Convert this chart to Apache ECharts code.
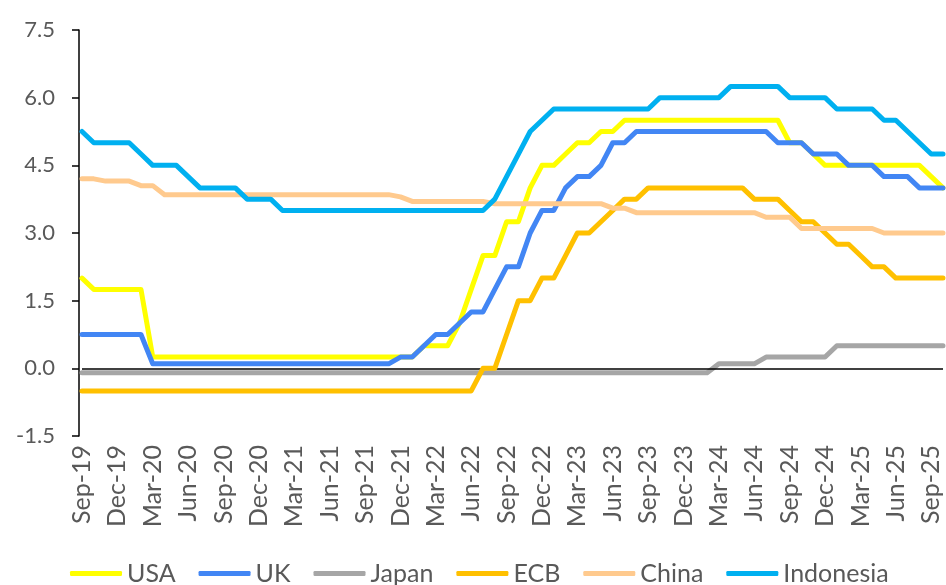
<!DOCTYPE html>
<html>
<head>
<meta charset="utf-8">
<title>Policy rates</title>
<script src="https://cdn.jsdelivr.net/npm/echarts@6/dist/echarts.min.js"></script>
<style>
  html, body { margin: 0; padding: 0; background: #ffffff; }
  #chart { width: 946px; height: 585px; }
</style>
</head>
<body>
<div id="chart"></div>
<script>
// Monthly policy rates (%), Sep-19 to Oct-25
const categories = [
  'Sep-19','Oct-19','Nov-19','Dec-19',
  'Jan-20','Feb-20','Mar-20','Apr-20','May-20','Jun-20','Jul-20','Aug-20','Sep-20','Oct-20','Nov-20','Dec-20',
  'Jan-21','Feb-21','Mar-21','Apr-21','May-21','Jun-21','Jul-21','Aug-21','Sep-21','Oct-21','Nov-21','Dec-21',
  'Jan-22','Feb-22','Mar-22','Apr-22','May-22','Jun-22','Jul-22','Aug-22','Sep-22','Oct-22','Nov-22','Dec-22',
  'Jan-23','Feb-23','Mar-23','Apr-23','May-23','Jun-23','Jul-23','Aug-23','Sep-23','Oct-23','Nov-23','Dec-23',
  'Jan-24','Feb-24','Mar-24','Apr-24','May-24','Jun-24','Jul-24','Aug-24','Sep-24','Oct-24','Nov-24','Dec-24',
  'Jan-25','Feb-25','Mar-25','Apr-25','May-25','Jun-25','Jul-25','Aug-25','Sep-25','Oct-25'
];

const usa = [
  2.00, 1.75, 1.75, 1.75, 1.75, 1.75, 0.25, 0.25, 0.25, 0.25, 0.25, 0.25,
  0.25, 0.25, 0.25, 0.25, 0.25, 0.25, 0.25, 0.25, 0.25, 0.25, 0.25, 0.25,
  0.25, 0.25, 0.25, 0.25, 0.25, 0.50, 0.50, 0.50, 1.00, 1.75, 2.50, 2.50,
  3.25, 3.25, 4.00, 4.50, 4.50, 4.75, 5.00, 5.00, 5.25, 5.25, 5.50, 5.50,
  5.50, 5.50, 5.50, 5.50, 5.50, 5.50, 5.50, 5.50, 5.50, 5.50, 5.50, 5.50,
  5.00, 5.00, 4.75, 4.50, 4.50, 4.50, 4.50, 4.50, 4.50, 4.50, 4.50, 4.50,
  4.25, 4.00
];

const uk = [
  0.75, 0.75, 0.75, 0.75, 0.75, 0.75, 0.10, 0.10, 0.10, 0.10, 0.10, 0.10,
  0.10, 0.10, 0.10, 0.10, 0.10, 0.10, 0.10, 0.10, 0.10, 0.10, 0.10, 0.10,
  0.10, 0.10, 0.10, 0.25, 0.25, 0.50, 0.75, 0.75, 1.00, 1.25, 1.25, 1.75,
  2.25, 2.25, 3.00, 3.50, 3.50, 4.00, 4.25, 4.25, 4.50, 5.00, 5.00, 5.25,
  5.25, 5.25, 5.25, 5.25, 5.25, 5.25, 5.25, 5.25, 5.25, 5.25, 5.25, 5.00,
  5.00, 5.00, 4.75, 4.75, 4.75, 4.50, 4.50, 4.50, 4.25, 4.25, 4.25, 4.00,
  4.00, 4.00
];

const japan = [
  -0.10, -0.10, -0.10, -0.10, -0.10, -0.10, -0.10, -0.10, -0.10, -0.10, -0.10, -0.10,
  -0.10, -0.10, -0.10, -0.10, -0.10, -0.10, -0.10, -0.10, -0.10, -0.10, -0.10, -0.10,
  -0.10, -0.10, -0.10, -0.10, -0.10, -0.10, -0.10, -0.10, -0.10, -0.10, -0.10, -0.10,
  -0.10, -0.10, -0.10, -0.10, -0.10, -0.10, -0.10, -0.10, -0.10, -0.10, -0.10, -0.10,
  -0.10, -0.10, -0.10, -0.10, -0.10, -0.10, 0.10, 0.10, 0.10, 0.10, 0.25, 0.25,
  0.25, 0.25, 0.25, 0.25, 0.50, 0.50, 0.50, 0.50, 0.50, 0.50, 0.50, 0.50,
  0.50, 0.50
];

const ecb = [
  -0.50, -0.50, -0.50, -0.50, -0.50, -0.50, -0.50, -0.50, -0.50, -0.50, -0.50, -0.50,
  -0.50, -0.50, -0.50, -0.50, -0.50, -0.50, -0.50, -0.50, -0.50, -0.50, -0.50, -0.50,
  -0.50, -0.50, -0.50, -0.50, -0.50, -0.50, -0.50, -0.50, -0.50, -0.50, 0.00, 0.00,
  0.75, 1.50, 1.50, 2.00, 2.00, 2.50, 3.00, 3.00, 3.25, 3.50, 3.75, 3.75,
  4.00, 4.00, 4.00, 4.00, 4.00, 4.00, 4.00, 4.00, 4.00, 3.75, 3.75, 3.75,
  3.50, 3.25, 3.25, 3.00, 2.75, 2.75, 2.50, 2.25, 2.25, 2.00, 2.00, 2.00,
  2.00, 2.00
];

const china = [
  4.20, 4.20, 4.15, 4.15, 4.15, 4.05, 4.05, 3.85, 3.85, 3.85, 3.85, 3.85,
  3.85, 3.85, 3.85, 3.85, 3.85, 3.85, 3.85, 3.85, 3.85, 3.85, 3.85, 3.85,
  3.85, 3.85, 3.85, 3.80, 3.70, 3.70, 3.70, 3.70, 3.70, 3.70, 3.70, 3.65,
  3.65, 3.65, 3.65, 3.65, 3.65, 3.65, 3.65, 3.65, 3.65, 3.55, 3.55, 3.45,
  3.45, 3.45, 3.45, 3.45, 3.45, 3.45, 3.45, 3.45, 3.45, 3.45, 3.35, 3.35,
  3.35, 3.10, 3.10, 3.10, 3.10, 3.10, 3.10, 3.10, 3.00, 3.00, 3.00, 3.00,
  3.00, 3.00
];

const indonesia = [
  5.25, 5.00, 5.00, 5.00, 5.00, 4.75, 4.50, 4.50, 4.50, 4.25, 4.00, 4.00,
  4.00, 4.00, 3.75, 3.75, 3.75, 3.50, 3.50, 3.50, 3.50, 3.50, 3.50, 3.50,
  3.50, 3.50, 3.50, 3.50, 3.50, 3.50, 3.50, 3.50, 3.50, 3.50, 3.50, 3.75,
  4.25, 4.75, 5.25, 5.50, 5.75, 5.75, 5.75, 5.75, 5.75, 5.75, 5.75, 5.75,
  5.75, 6.00, 6.00, 6.00, 6.00, 6.00, 6.00, 6.25, 6.25, 6.25, 6.25, 6.25,
  6.00, 6.00, 6.00, 6.00, 5.75, 5.75, 5.75, 5.75, 5.50, 5.50, 5.25, 5.00,
  4.75, 4.75
];

// Value axis ticks
const yTicks = [-1.5, 0.0, 1.5, 3.0, 4.5, 6.0, 7.5];

const seriesNames = ['USA', 'UK', 'Japan', 'ECB', 'China', 'Indonesia'];
const seriesData = [usa, uk, japan, ecb, china, indonesia];
const seriesColors = ['#FFFF00', '#4286F4', '#A6A6A6', '#FFC000', '#FFCA8E', '#00B0F0'];

const FONT = 'Lato, "Noto Sans", sans-serif';
const TEXT_GREY = '#595959';

const chart = echarts.init(document.getElementById('chart'), null, { renderer: 'canvas' });

const series = seriesNames.map((name, k) => ({
  name: name,
  type: 'line',
  data: seriesData[k],
  symbol: 'none',
  showSymbol: false,
  smooth: false,
  z: 2 + k,
  lineStyle: { width: 5, color: seriesColors[k], cap: 'round', join: 'round' },
  itemStyle: { color: seriesColors[k] },
  emphasis: { disabled: true }
}));

// Zero reference line across the plot
series.push({
  name: 'zero',
  type: 'line',
  data: [],
  z: 20,
  silent: true,
  markLine: {
    silent: true,
    symbol: ['none', 'none'],
    label: { show: false },
    lineStyle: { color: '#000000', width: 1.5, type: 'solid' },
    emphasis: { disabled: true },
    data: [{ yAxis: 0 }]
  }
});

chart.setOption({
  animation: false,
  backgroundColor: '#ffffff',
  grid: { left: 82, right: 3, top: 30, bottom: 149, containLabel: false },
  xAxis: {
    type: 'category',
    data: categories,
    boundaryGap: false,
    axisLine: { show: false },
    axisTick: { show: false },
    splitLine: { show: false },
    axisLabel: {
      interval: 2,
      rotate: 90,
      margin: 9,
      color: TEXT_GREY,
      fontFamily: FONT,
      fontSize: 25
    }
  },
  yAxis: {
    type: 'value',
    min: yTicks[0],
    max: yTicks[yTicks.length - 1],
    interval: yTicks[1] - yTicks[0],
    offset: 3,
    axisLine: { show: true, onZero: false, lineStyle: { color: '#000000', width: 1.5 } },
    axisTick: { show: true, inside: false, length: 7, lineStyle: { color: '#000000', width: 1.5 } },
    splitLine: { show: false },
    axisLabel: {
      margin: 24,
      color: TEXT_GREY,
      fontFamily: FONT,
      fontSize: 22,
      formatter: v => v.toFixed(1)
    }
  },
  legend: {
    data: seriesNames,
    left: 70,
    top: 561,
    padding: 0,
    icon: 'roundRect',
    itemWidth: 52,
    itemHeight: 5,
    itemGap: 23,
    textStyle: { color: TEXT_GREY, fontFamily: FONT, fontSize: 25, padding: [0, 0, 0, 0] }
  },
  series: series
});
</script>
</body>
</html>
